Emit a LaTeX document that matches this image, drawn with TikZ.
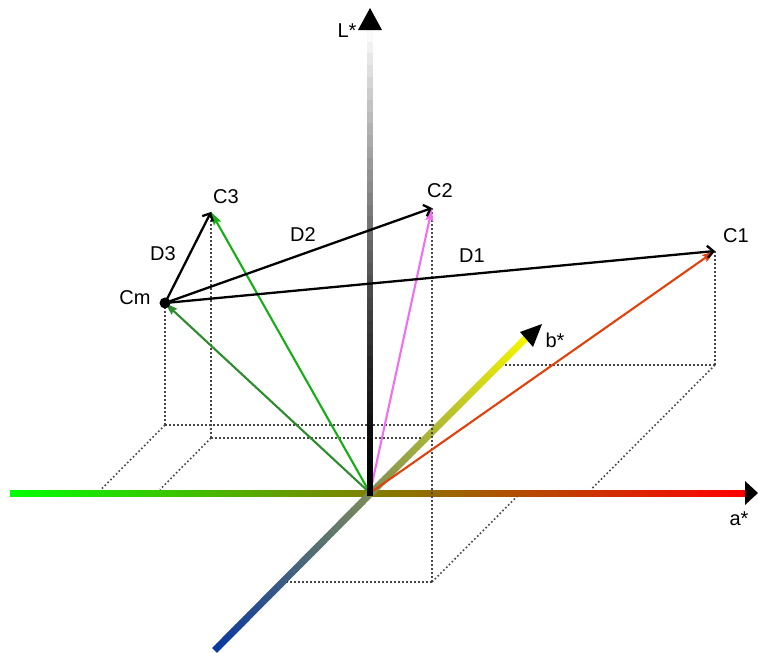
\documentclass[tikz,border=0pt]{standalone}
\usepackage{fontspec}
\setmainfont{Liberation Sans}
\usetikzlibrary{arrows.meta}
\definecolor{agreen}{RGB}{0,255,0}
\definecolor{aolive}{RGB}{128,128,0}
\definecolor{ared}{RGB}{255,0,0}
\definecolor{bblue}{RGB}{10,55,160}
\definecolor{bmid}{RGB}{125,140,90}
\definecolor{byellow}{RGB}{245,245,0}
\definecolor{vorange}{RGB}{225,65,10}
\definecolor{vviolet}{RGB}{240,110,240}
\definecolor{vgreen}{RGB}{20,175,20}
\definecolor{vdgreen}{RGB}{45,140,45}
\definecolor{projgray}{RGB}{70,70,70}
\begin{document}
\begin{tikzpicture}[x=1pt,y=-1pt,
  proj/.style={projgray, line width=1.6pt, dash pattern=on 1.6pt off 2.4pt},
  vec/.style={line width=2.1pt, -{Stealth[length=13pt,width=8pt,inset=2pt]}},
  dist/.style={black, line width=2.3pt, -{Straight Barb[length=6pt,width=12pt]}},
  lab/.style={font=\fontsize{20}{22}\selectfont, inner sep=0pt},
  axhead/.style={fill=black, draw=none}]
\useasboundingbox (0,0) rectangle (758,653);

% key points
\coordinate (O) at (370,493);
\coordinate (C1) at (715,251);
\coordinate (C2) at (432,208);
\coordinate (C3) at (211,212);
\coordinate (Cm) at (165,303);
% projections
\coordinate (P1) at (715,365);
\coordinate (P2) at (432,582);
\coordinate (P3) at (211,438);
\coordinate (Pm) at (165,425);

% a* axis (green -> olive -> red)
\foreach \i in {0,...,39}{
  \pgfmathsetmacro\xa{10+\i*9}
  \pgfmathsetmacro\xb{\xa+9.5}
  \pgfmathsetmacro\p{100-(\i+0.5)*2.5}
  \draw[line width=7pt, color=agreen!\p!aolive] (\xa,493) -- (\xb,493);
}
\foreach \i in {0,...,39}{
  \pgfmathsetmacro\xa{370+\i*9.375}
  \pgfmathsetmacro\xb{\xa+9.775}
  \pgfmathsetmacro\p{(\i+0.5)*2.5}
  \draw[line width=7pt, color=ared!\p!aolive] (\xa,493) -- (\xb,493);
}
\fill[axhead] (758,493) -- (745,481) -- (745,505) -- cycle;

% b* axis (blue -> grey-olive -> yellow)
\foreach \i in {0,...,39}{
  \pgfmathsetmacro\ta{\i/40}
  \pgfmathsetmacro\tb{(\i+1.1)/40}
  \pgfmathsetmacro\p{(\i+0.5)*2.5}
  \draw[line width=7pt, color=bblue!\p!bmid]
    ({370-155*\ta},{494+156*\ta}) -- ({370-155*\tb},{494+156*\tb});
  \draw[line width=7pt, color=byellow!\p!bmid]
    ({370+156*\ta},{494-156*\ta}) -- ({370+156*\tb},{494-156*\tb});
}
\fill[axhead] (542,324) -- (520,332) -- (533,347) -- cycle;

% projection lines
\draw[proj] (Cm) -- (Pm);
\draw[proj] (Pm) -- (434,425);
\draw[proj] (Pm) -- (101,489.5);
\draw[proj] (C3) -- (P3);
\draw[proj] (P3) -- (421,438);
\draw[proj] (P3) -- (160,489.5);
\draw[proj] (C2) -- (P2);
\draw[proj] (P2) -- (287,582);
\draw[proj] (P2) -- (517,496.5);
\draw[proj] (C1) -- (P1);
\draw[proj] (P1) -- (503,365);
\draw[proj] (P1) -- (591,489.5);

% vectors from origin
\draw[vec, vdgreen] (O) -- (Cm);
\draw[vec, vgreen] (O) -- (C3);
\draw[vec, vviolet] (O) -- (C2);
\draw[vec, vorange] (O) -- (C1);

% L* axis (black -> white)
\foreach \i in {0,...,39}{
  \pgfmathsetmacro\ya{496-\i*11.65}
  \pgfmathsetmacro\yb{\ya-12}
  \pgfmathsetmacro\p{100*((\i+0.5)/40)^1.5}
  \draw[line width=6pt, color=white!\p!black] (370,\ya) -- (370,\yb);
}
\fill[axhead] (370,8) -- (382,30) -- (358,30) -- cycle;

% distance vectors
\draw[dist] (Cm) -- (C3);
\draw[dist] (Cm) -- (C2);
\draw[dist] (Cm) -- (C1);
\fill[black] (Cm) circle[radius=5.5pt];

% labels
\node[lab] (lL) at (347,31) {L*};
\node[lab] (la) at (739,519) {a*};
\node[lab] (lb) at (555,340) {b*};
\node[lab] (lC1) at (736,236) {C1};
\node[lab] (lC2) at (440,191) {C2};
\node[lab] (lC3) at (226,197) {C3};
\node[lab] (lCm) at (135,298) {Cm};
\node[lab] (lD1) at (472,256) {D1};
\node[lab] (lD2) at (303,235) {D2};
\node[lab] (lD3) at (163,254) {D3};
\end{tikzpicture}
\end{document}
